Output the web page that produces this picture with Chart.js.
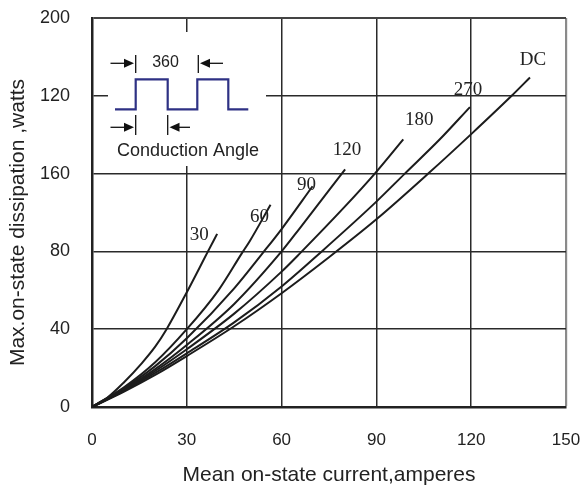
<!DOCTYPE html>
<html>
<head>
<meta charset="utf-8">
<script src="https://cdn.jsdelivr.net/npm/chart.js@4/dist/chart.umd.min.js"></script>
<style>
  html, body { margin: 0; padding: 0; background: #ffffff; }
  #wrap { width: 582px; height: 488px; }
</style>
</head>
<body>
<div id="wrap"><canvas id="c" width="582" height="488"></canvas></div>
<script>
// ---- data ----
const curveNames = ['30', '60', '90', '120', '180', '270', 'DC'];
const current30  = [0, 5, 10, 15.8, 20, 23.6, 30, 34, 36.7, 39.6];
const power30    = [0, 5, 12.5, 22.6, 31, 40, 59, 71.5, 80, 89];
const current60  = [0, 10, 20, 30, 40, 47.4, 50, 56.5];
const power60    = [0, 10, 23, 40, 60, 79, 85.5, 104];
const current90  = [0, 10, 20, 30, 45, 54.2, 60, 69.8];
const power90    = [0, 9.5, 21, 35.3, 61, 79.5, 91.5, 113.5];
const current120 = [0, 10, 20, 30, 45, 60, 65.8, 80.1];
const power120   = [0, 9, 19.5, 31.9, 53, 80, 92, 122.2];
const current180 = [0, 10, 20, 30, 45, 60, 65.8, 80, 89.5, 98.5];
const power180   = [0, 8.5, 18.5, 29.7, 48, 69.6, 79, 103, 120, 137.6];
const current270 = [0, 10, 20, 30, 45, 60, 72.7, 90, 99, 110, 119.6];
const power270   = [0, 8.2, 17.5, 27.6, 43.5, 62, 80, 105.6, 120, 137.5, 154.2];
const currentDC  = [0, 10, 20, 30, 45, 60, 75, 90, 106.4, 120, 132.8, 138.6];
const powerDC    = [0, 7.8, 16.5, 26.2, 41.5, 58.5, 77, 96.5, 120, 140.3, 160, 169.4];

const xTickLabels = ['0', '30', '60', '90', '120', '150'];
const yTickLabels = ['0', '40', '80', '160', '120', '200'];

const xTitle = 'Mean on-state current,amperes';
const yTitle = 'Max.on-state dissipation ,watts';
const insetPeriodText = '360';
const insetCaption = 'Conduction Angle';

// label offsets (pixels) from each curve's last point
const labelOffsets = [[-18, 1], [-11, 12], [-6, -1], [2, -19], [16, -19], [-2, -17], [3, -18]];

const xs = [current30, current60, current90, current120, current180, current270, currentDC];
const ys = [power30, power60, power90, power120, power180, power270, powerDC];

const datasets = curveNames.map((name, i) => ({
  label: name,
  data: xs[i].map((x, j) => ({ x: x, y: ys[i][j] })),
  showLine: true,
  borderColor: '#1c1c1c',
  borderWidth: 2,
  pointRadius: 0,
  cubicInterpolationMode: 'monotone',
  fill: false
}));

const inkColor = '#222222';
const sansFamily = '"Liberation Sans", Arial, sans-serif';

const curveLabelPlugin = {
  id: 'curveLabels',
  afterDatasetsDraw(chart) {
    const ctx = chart.ctx;
    const xS = chart.scales.x, yS = chart.scales.y;
    ctx.save();
    ctx.font = '19px "Liberation Serif", serif';
    ctx.fillStyle = inkColor;
    ctx.textAlign = 'center';
    ctx.textBaseline = 'middle';
    curveNames.forEach((name, i) => {
      const n = xs[i].length - 1;
      const px = xS.getPixelForValue(xs[i][n]) + labelOffsets[i][0];
      const py = yS.getPixelForValue(ys[i][n]) + labelOffsets[i][1];
      ctx.fillText(name, px, py);
    });
    ctx.restore();
  }
};

const yTitlePlugin = {
  id: 'yTitle',
  afterDraw(chart) {
    const ctx = chart.ctx;
    const a = chart.chartArea;
    ctx.save();
    ctx.translate(18, (a.top + a.bottom) / 2 + 10);
    ctx.rotate(-Math.PI / 2);
    ctx.font = '21px ' + sansFamily;
    ctx.fillStyle = inkColor;
    ctx.textAlign = 'center';
    ctx.textBaseline = 'middle';
    ctx.fillText(yTitle, 0, 0);
    ctx.restore();
  }
};

function arrow(ctx, x0, x1, tip, y) {
  const dir = tip > x1 ? 1 : -1;
  ctx.beginPath();
  ctx.moveTo(x0, y);
  ctx.lineTo(x1, y);
  ctx.stroke();
  ctx.beginPath();
  ctx.moveTo(tip, y);
  ctx.lineTo(tip - dir * 10, y - 4.5);
  ctx.lineTo(tip - dir * 10, y + 4.5);
  ctx.closePath();
  ctx.fill();
}

const insetPlugin = {
  id: 'inset',
  afterDraw(chart) {
    const ctx = chart.ctx;
    const ox = chart.chartArea.left, oy = chart.chartArea.top;
    ctx.save();
    ctx.translate(ox, oy);
    ctx.fillStyle = '#ffffff';
    ctx.fillRect(16, 14, 158, 134);
    ctx.strokeStyle = '#2e3184';
    ctx.lineWidth = 2.2;
    ctx.beginPath();
    const lo = 91.3, hi = 61.3;
    ctx.moveTo(23, lo);
    ctx.lineTo(43.7, lo); ctx.lineTo(43.7, hi);
    ctx.lineTo(75.7, hi); ctx.lineTo(75.7, lo);
    ctx.lineTo(105.3, lo); ctx.lineTo(105.3, hi);
    ctx.lineTo(136.3, hi); ctx.lineTo(136.3, lo);
    ctx.lineTo(156.3, lo);
    ctx.stroke();
    ctx.strokeStyle = '#111111';
    ctx.fillStyle = '#111111';
    ctx.lineWidth = 1.3;
    ctx.beginPath();
    ctx.moveTo(43.7, 37); ctx.lineTo(43.7, 55);
    ctx.moveTo(106.3, 37); ctx.lineTo(106.3, 55);
    ctx.moveTo(43.7, 97); ctx.lineTo(43.7, 117);
    ctx.moveTo(75.7, 97); ctx.lineTo(75.7, 117);
    ctx.stroke();
    arrow(ctx, 18.5, 33, 42, 45.3);
    arrow(ctx, 131, 117, 108, 45.3);
    arrow(ctx, 18.5, 33, 42, 109.3);
    arrow(ctx, 98, 87, 77.5, 109.3);
    ctx.fillStyle = inkColor;
    ctx.textAlign = 'center';
    ctx.textBaseline = 'middle';
    ctx.font = '16px ' + sansFamily;
    ctx.fillText(insetPeriodText, 73.5, 45);
    ctx.font = '18px ' + sansFamily;
    ctx.fillText(insetCaption, 96, 133);
    ctx.restore();
  }
};

new Chart(document.getElementById('c'), {
  type: 'scatter',
  data: { datasets: datasets },
  options: {
    responsive: false,
    animation: false,
    events: [],
    layout: { padding: { left: 0, right: 16, top: 18, bottom: 0 } },
    plugins: { legend: { display: false }, tooltip: { enabled: false } },
    scales: {
      x: {
        type: 'linear', min: 0, max: 150,
        afterFit(s) { s.height = 81; s.paddingLeft = 0; s.paddingRight = 0; },
        ticks: {
          stepSize: 30, color: inkColor, padding: 23,
          font: { family: sansFamily, size: 17 },
          callback: (v, i) => xTickLabels[i]
        },
        grid: {
          drawTicks: false,
          color: (c) => (c.tick && c.tick.value === 150 ? '#8a8a8a' : '#2a2a2a'),
          lineWidth: (c) => (c.tick && c.tick.value === 150 ? 2.2 : 1.5)
        },
        border: { display: true, color: '#222222', width: 2.5 },
        title: {
          display: true, text: xTitle, color: inkColor,
          font: { family: sansFamily, size: 21 },
          padding: { top: 0, bottom: 0 }
        }
      },
      y: {
        type: 'linear', min: 0, max: 200,
        afterFit(s) { s.width = 92; s.paddingTop = 0; s.paddingBottom = 0; },
        ticks: {
          stepSize: 40, color: inkColor, padding: 22,
          font: { family: sansFamily, size: 18 },
          callback: (v, i) => yTickLabels[i]
        },
        grid: {
          drawTicks: false,
          color: (c) => (c.tick && c.tick.value === 200 ? '#444444' : '#2a2a2a'),
          lineWidth: (c) => (c.tick && c.tick.value === 200 ? 2 : 1.5)
        },
        border: { display: true, color: '#222222', width: 2.5 },
        title: { display: false }
      }
    }
  },
  plugins: [curveLabelPlugin, yTitlePlugin, insetPlugin]
});
</script>
</body>
</html>
